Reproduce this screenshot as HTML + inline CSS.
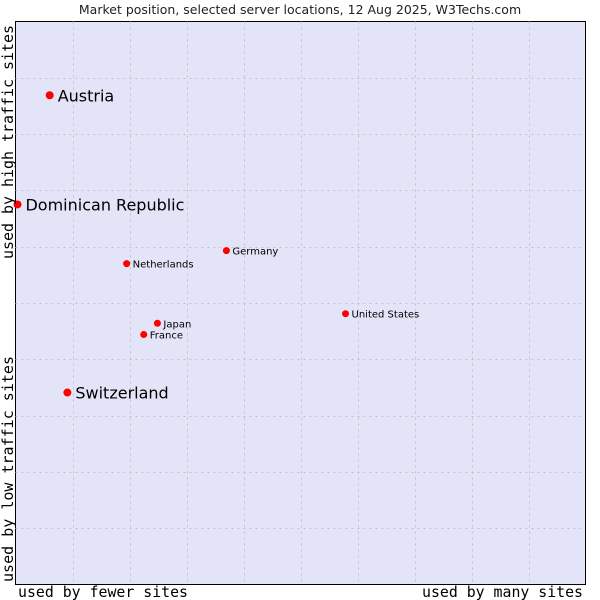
<!DOCTYPE html>
<html><head><meta charset="utf-8"><style>
body{margin:0;background:#fff;width:600px;height:600px;overflow:hidden}
svg{display:block}
</style></head><body>
<svg id="chart" width="600" height="600" xmlns="http://www.w3.org/2000/svg">
<text x="300" y="14" text-anchor="middle" font-family="DejaVu Sans, sans-serif" font-size="12.5" fill="#222">Market position, selected server locations, 12 Aug 2025, W3Techs.com</text>
<rect x="15.5" y="21.5" width="570" height="563" fill="#e3e4f8" stroke="#000" stroke-width="1"/>
<g id="grid"></g>
<g id="points"></g>
<text x="18" y="597" font-family="DejaVu Sans Mono, monospace" font-size="15" textLength="170" lengthAdjust="spacingAndGlyphs" fill="#000">used by fewer sites</text>
<text x="422" y="597" font-family="DejaVu Sans Mono, monospace" font-size="15" textLength="161" lengthAdjust="spacingAndGlyphs" fill="#000">used by many sites</text>
<text transform="translate(13,582) rotate(-90)" font-family="DejaVu Sans Mono, monospace" font-size="15" textLength="226" lengthAdjust="spacingAndGlyphs" fill="#000">used by low traffic sites</text>
<text transform="translate(13,259) rotate(-90)" font-family="DejaVu Sans Mono, monospace" font-size="15" textLength="234" lengthAdjust="spacingAndGlyphs" fill="#000">used by high traffic sites</text>
</svg>
<script>
const names = ["Austria","Dominican Republic","Germany","Netherlands","United States","Japan","France","Switzerland"];
const xValues = [6.0,0.35,37.0,19.5,57.9,24.9,22.5,9.1];
const yValues = [86.9,67.5,59.3,57.0,48.1,46.4,44.4,34.1];
const bigLabel = [true,true,false,false,false,false,false,true];
const X0=15.5,Y0=21.5,W=570,H=563;
const sx=v=>X0+v/100*W, sy=v=>Y0+H-v/100*H;
const NS="http://www.w3.org/2000/svg";
const grid=document.getElementById('grid');
for(let i=1;i<10;i++){
  const v=document.createElementNS(NS,'line');
  
  
  const x=Math.round(sx(i*10))+0.5;
  v.setAttribute('x1',x);v.setAttribute('x2',x);v.setAttribute('y1',Y0);v.setAttribute('y2',Y0+H);
  v.setAttribute('stroke','#c0c0c8');v.setAttribute('stroke-dasharray','2,4');
  grid.appendChild(v);
  const h=document.createElementNS(NS,'line');
  
  
  const y=Math.round(sy(i*10))+0.5;
  h.setAttribute('y1',y);h.setAttribute('y2',y);h.setAttribute('x1',X0);h.setAttribute('x2',X0+W);
  h.setAttribute('stroke','#c0c0c8');h.setAttribute('stroke-dasharray','2,4');
  grid.appendChild(h);
}
const pts=document.getElementById('points');
names.forEach((n,i)=>{
  const x=sx(xValues[i]),y=sy(yValues[i]);
  const c=document.createElementNS(NS,'circle');
  
  
  c.setAttribute('cx',x);c.setAttribute('cy',y);c.setAttribute('r',bigLabel[i]?4:3.5);c.setAttribute('fill','#f00');
  pts.appendChild(c);
  const t=document.createElementNS(NS,'text');
  
  
  t.setAttribute('x',x+(bigLabel[i]?8:6));t.setAttribute('y',y+(bigLabel[i]?6:4));
  t.setAttribute('font-family','DejaVu Sans, sans-serif');
  t.setAttribute('font-size',bigLabel[i]?16:10);t.setAttribute('fill','#000');
  t.textContent=n;
  pts.appendChild(t);
});
</script>
</body></html>
